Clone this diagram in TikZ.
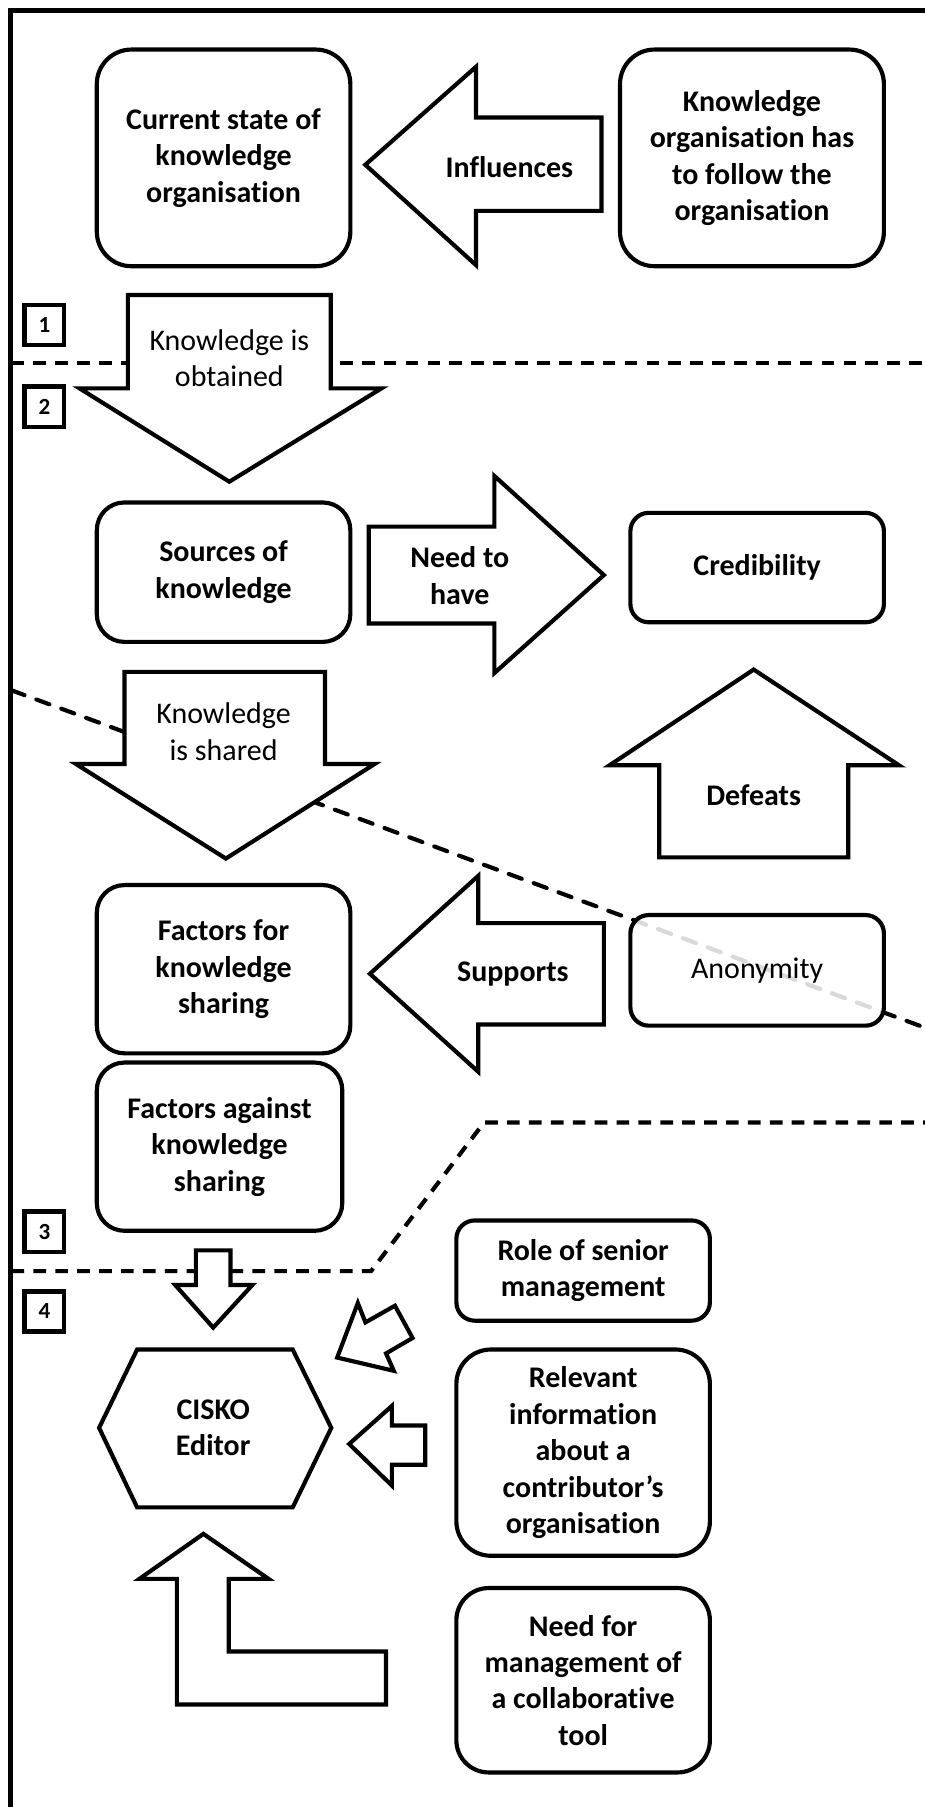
\documentclass[tikz,border=0pt]{standalone}
\usepackage{fontspec}
\setmainfont{Carlito}[Ligatures={NoCommon}]
\begin{document}
\begin{tikzpicture}[x=0.5pt,y=-0.5pt,
  shp/.style={draw=black, line width=1.8pt, fill=white, line join=miter},
  rbox/.style={shp, rectangle, inner sep=0pt, align=center, font=\bfseries\fontsize{13}{15.8}\selectfont},
  lbl/.style={align=center, inner sep=0pt, font=\bfseries\fontsize{13}{15.8}\selectfont},
  lblr/.style={align=center, inner sep=0pt, font=\fontsize{13}{15.8}\selectfont},
  numbox/.style={draw, line width=2pt, fill=white, minimum width=17pt, minimum height=17.5pt, inner sep=0pt, font=\bfseries\fontsize{10}{11}\selectfont},
  sep/.style={line width=1.8pt, dash pattern=on 5.5pt off 4pt},
  sepd/.style={line width=1.8pt, dash pattern=on 6pt off 5.5pt, line cap=round}
]
\useasboundingbox (0,0) rectangle (802,1568);
% frame
\draw[line width=2.2pt] (9.5,1572) -- (9.5,9.5) -- (806,9.5);

% dashed separators
\coordinate (d1a) at (10,315);
\coordinate (d1b) at (806,315);
\draw[sep] (d1a) -- (d1b);
\coordinate (d2a) at (10,599);
\coordinate (d2b) at (806,893);
\draw[sepd] (d2a) -- (d2b);
\coordinate (d3a) at (10,1103);
\coordinate (d3b) at (322,1103);
\coordinate (d3c) at (420,974);
\coordinate (d3d) at (806,974);
\draw[sep] (d3a) -- (d3b) -- (d3c) -- (d3d);

% section numbers
\node[numbox] (n1) at (38.5,282) {1};
\node[numbox] (n2) at (38.5,353) {2};
\node[numbox] (n3) at (38.5,1069) {3};
\node[numbox] (n4) at (38.5,1138) {4};

% top row
\node[rbox, minimum width=110pt, minimum height=94pt, rounded corners=15pt] (cur) at (194,137)
  {Current state of\\knowledge\\organisation};
\node[rbox, minimum width=114.5pt, minimum height=94pt, rounded corners=15pt] (follow) at (652.5,137)
  {Knowledge\\organisation has\\to follow the\\organisation};
\draw[shp] (317,143) -- (413,58) -- (413,102) -- (522,102) -- (522,183) -- (413,183) -- (413,230) -- cycle;
\node[lbl] (infl) at (442,145) {Influences};

% knowledge is obtained
\draw[shp] (111,256) -- (287,256) -- (287,337) -- (331,337) -- (199,418) -- (69,337) -- (111,337) -- cycle;
\node[lblr] (obt) at (199,311) {Knowledge is\\obtained};

% sources / credibility
\node[rbox, minimum width=110pt, minimum height=60.5pt, rounded corners=12pt] (src) at (194,496.5)
  {Sources of\\knowledge};
\draw[shp] (320,457) -- (429,457) -- (429,413) -- (524,499) -- (429,584) -- (429,541) -- (320,541) -- cycle;
\node[lbl] (need) at (399,499.5) {Need to\\have};
\node[rbox, minimum width=110pt, minimum height=47.5pt, rounded corners=8pt] (cred) at (657,492.5)
  {Credibility};

% knowledge is shared
\draw[shp] (108,583) -- (282,583) -- (282,663) -- (325,663) -- (196,745) -- (66,663) -- (108,663) -- cycle;
\node[lblr] (shr) at (194,635) {Knowledge\\is shared};

% defeats
\draw[shp] (654,581) -- (780,664) -- (736,664) -- (736,744) -- (572,744) -- (572,664) -- (529,664) -- cycle;
\node[lbl] (def) at (654,690) {Defeats};

% factors for / anonymity
\node[rbox, minimum width=110pt, minimum height=73pt, rounded corners=12pt] (ffor) at (194,841)
  {Factors for\\knowledge\\sharing};
\draw[shp] (321,845) -- (415,760) -- (415,801) -- (524,801) -- (524,889) -- (415,889) -- (415,930) -- cycle;
\node[lbl] (sup) at (445,845) {Supports};
\node[rbox, minimum width=110pt, minimum height=48pt, rounded corners=8pt, fill opacity=0.85, text opacity=1,
  font=\fontsize{13}{15.8}\selectfont] (anon) at (657,842) {Anonymity};

% factors against
\node[rbox, minimum width=106.5pt, minimum height=73pt, rounded corners=12pt] (fag) at (190.5,995)
  {Factors against\\knowledge\\sharing};

% section 4
\draw[shp] (170,1085) -- (200,1085) -- (200,1115) -- (219,1115) -- (185,1152) -- (152,1115) -- (170,1115) -- cycle;
\node[rbox, minimum width=110pt, minimum height=43.5pt, rounded corners=8pt] (role) at (506,1102.5)
  {Role of senior\\management};
\draw[shp] (292.6,1178) -- (310.5,1130.7) -- (317.1,1147.5) -- (342.7,1133) -- (358,1161) -- (335,1174.4) -- (341.7,1189.5) -- cycle;
\draw[shp] (119,1171) -- (254,1171) -- (287.5,1239) -- (254,1308) -- (119,1308) -- (86,1239) -- cycle;
\node[lbl] (cisko) at (185,1239) {CISKO\\Editor};
\draw[shp] (303,1253) -- (340,1220) -- (340,1237) -- (369,1237) -- (369,1271) -- (340,1271) -- (340,1289) -- cycle;
\node[rbox, minimum width=110pt, minimum height=89.5pt, rounded corners=15pt] (rel) at (506,1260.5)
  {Relevant\\information\\about a\\contributor’s\\organisation};
\draw[shp] (176.5,1331) -- (233,1370) -- (198.5,1370) -- (198.5,1433) -- (335,1433) -- (335,1479) -- (153.5,1479) -- (153.5,1370) -- (121,1370) -- cycle;
\node[rbox, minimum width=110pt, minimum height=80pt, rounded corners=14pt] (mgmt) at (506,1458)
  {Need for\\management of\\a collaborative\\tool};
\end{tikzpicture}
\end{document}
